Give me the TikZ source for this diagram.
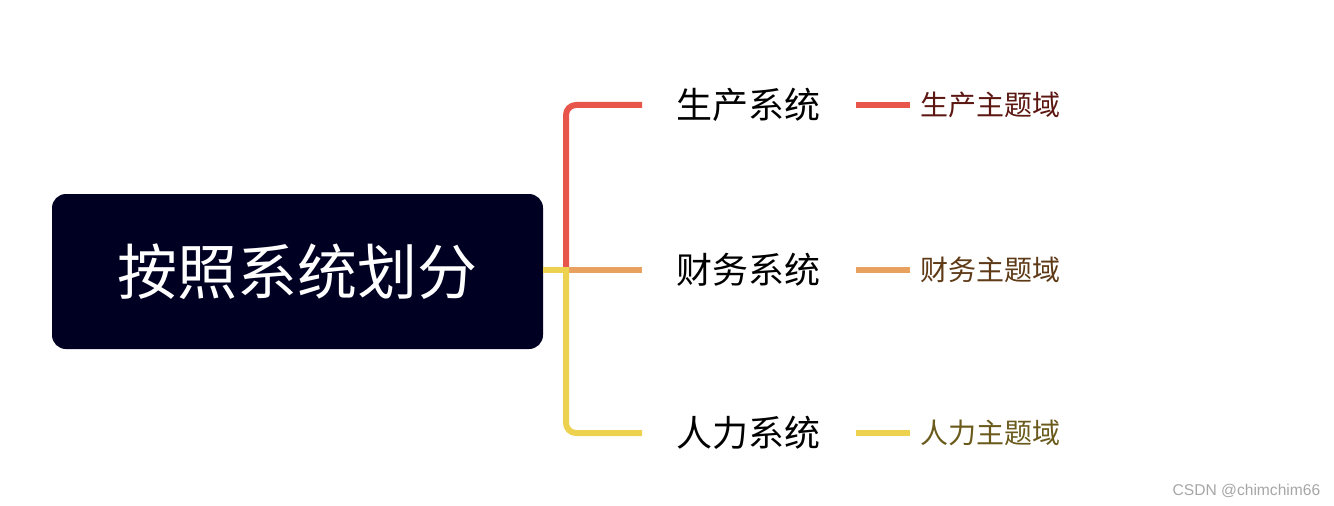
\documentclass[tikz,border=0pt]{standalone}
\usepackage{fontspec}
\setmainfont{Noto Sans CJK SC}
\newfontfamily\markfont{Liberation Sans}
\usetikzlibrary{positioning,calc}

\definecolor{rootnavy}{HTML}{000023}
\definecolor{linered}{HTML}{E8554A}
\definecolor{lineorange}{HTML}{E9A15F}
\definecolor{lineyellow}{HTML}{EDD250}
\definecolor{leafred}{HTML}{5C1712}
\definecolor{leaforange}{HTML}{5E3A17}
\definecolor{leafyellow}{HTML}{6A5A1C}

\begin{document}
\begin{tikzpicture}[
  x=0.75pt, y=-0.75pt,
  root/.style={fill=rootnavy, rounded corners=10.5pt, minimum width=368.25pt, minimum height=116.25pt, text=white, font=\fontsize{45}{50}\selectfont},
  sys/.style={inner xsep=26pt, inner ysep=0pt, font=\fontsize{27}{30}\selectfont},
  leaf/.style={inner xsep=7.5pt, inner ysep=0pt, font=\fontsize{21}{24}\selectfont},
  link/.style={line width=4.5pt},
  branch/.style={link, rounded corners=7.5pt},
  wmark/.style={text=black!35, font=\markfont\fontsize{11.7}{13}\selectfont}
]
\useasboundingbox (0,0) rectangle (1334,506);

\node[root] (r) at (297.5,271.5) {按照系统划分};
\coordinate (hub) at (566,270);

\node[sys, anchor=west] (s1) at (642,105) {生产系统};
\node[sys, anchor=west] (s2) at (642,270) {财务系统};
\node[sys, anchor=west] (s3) at (642,433) {人力系统};

\node[leaf, text=leafred, anchor=west] (l1) at (910,105) {生产主题域};
\node[leaf, text=leaforange, anchor=west] (l2) at (910,270) {财务主题域};
\node[leaf, text=leafyellow, anchor=west] (l3) at (910,433) {人力主题域};

% trunk to the three systems
\draw[link, lineorange] ($(hub)+(3,0)$) -- (s2.west);
\draw[branch, linered] ($(hub)+(0,-3)$) |- (s1.west);
\draw[link, lineyellow] (r.east |- hub) -- (hub);
\draw[branch, lineyellow] ($(hub)+(0,-3)$) |- (s3.west);

% systems to subject areas
\draw[link, linered] (s1.east) -- (l1.west);
\draw[link, lineorange] (s2.east) -- (l2.west);
\draw[link, lineyellow] (s3.east) -- (l3.west);

\node[wmark, anchor=east] (wm) at (1325,491) {CSDN @chimchim66};
\end{tikzpicture}
\end{document}
